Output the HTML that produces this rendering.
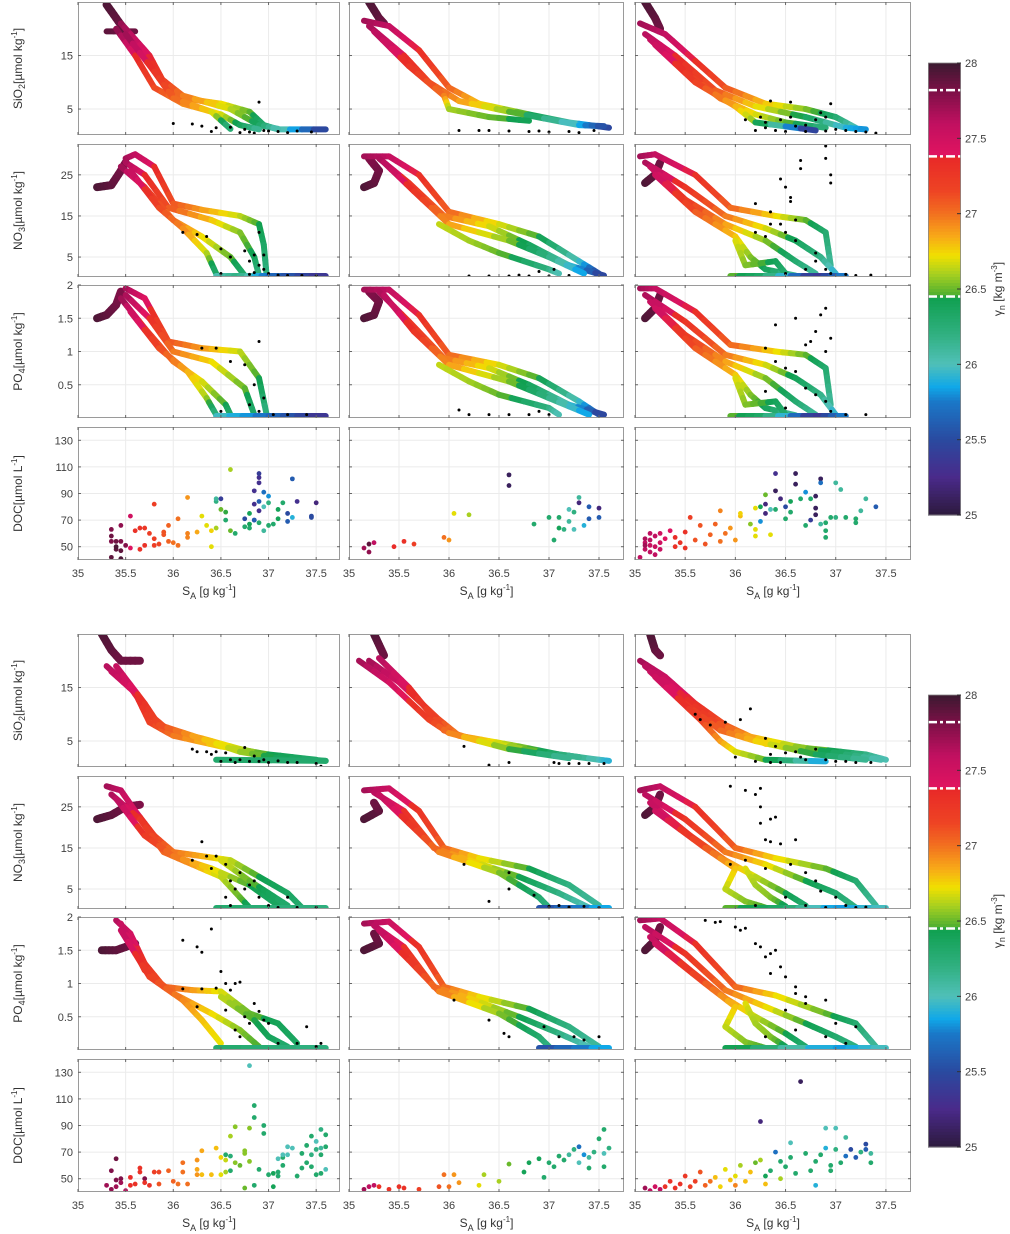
<!DOCTYPE html>
<html><head><meta charset="utf-8"><style>
html,body{margin:0;padding:0;background:#fff;}
svg{display:block;font-family:"Liberation Sans",Arial,sans-serif;}
</style></head><body>
<svg id="fig" width="1010" height="1234" viewBox="0 0 1010 1234" xmlns="http://www.w3.org/2000/svg">
<defs id="defs"></defs>
<text x="276" y="40" font-size="15" font-weight="bold" text-anchor="middle" fill="#000">FALL</text>
<text x="278" y="672" font-size="15" font-weight="bold" text-anchor="middle" fill="#000">SPRING</text>
</svg>
<script>
// ===== DATA (curves: [S_A, value, gamma_n]; dots: [S_A, value]; DOC: [S_A, DOC, gamma_n]) =====
const xTicks=[35,35.5,36,36.5,37,37.5];
const siTicks=[5,15];
const no3Ticks=[5,15,25];
const po4Ticks=[0.5,1,1.5,2];
const docTicks=[50,70,90,110,130];
const cbTicks=[25,25.5,26,26.5,27,27.5,28];
const cbDashes=[27.82,27.38,26.45];

// FALL column 1
const fSi1=[[[35.3,24.5,27.95],[35.4,22,27.9],[35.5,19.5,27.85]],[[35.3,19.5,27.9],[35.6,19.5,27.85]],
[[35.45,21,27.75],[35.6,18,27.55],[35.75,15,27.4],[35.9,10,27.2],[36.1,7,27.0],[36.5,6,26.75],[36.8,4.5,26.5],[36.95,2,26.3],[37.1,1.2,26.1],[37.6,1.2,25.4]],
[[35.5,20,27.7],[35.7,16,27.45],[35.85,11,27.25],[36.1,7.5,27.0],[36.6,5,26.65],[36.9,2,26.35],[37.1,1.3,26.0]],
[[35.4,20,27.8],[35.6,15,27.4],[35.8,9,27.15],[36.1,6,26.95],[36.5,4,26.7],[36.7,2,26.4],[36.9,1.2,26.1]],
[[35.5,19,27.75],[35.8,12,27.3],[36.0,7,27.05],[36.4,4.5,26.75],[36.6,1.3,26.2]]];
const fSi1Dots=[[36.0,2.3],[36.2,2.2],[36.3,1.8],[36.4,0.8],[36.45,1.5],[36.6,1.6],[36.75,1.2],[36.8,0.7],[36.9,6.3],[36.95,1.0],[37.0,0.9],[37.1,0.8],[37.2,0.6],[37.3,0.9],[37.45,0.7],[36.85,0.5],[36.7,0.6]];
const fNo1=[[[35.2,22,27.95],[35.35,22.5,27.9],[35.45,26,27.85],[35.5,28,27.8]],
[[35.5,29,27.7],[35.6,30,27.6],[35.8,27,27.4],[36.0,18,27.1],[36.3,16.5,26.9],[36.7,15,26.65],[36.9,13,26.45],[36.95,8,26.35],[36.98,0.5,26.2]],
[[35.5,28,27.7],[35.7,25,27.4],[35.95,17,27.1],[36.4,14,26.8],[36.7,11,26.55],[36.85,5,26.4],[36.9,0.5,26.2]],
[[35.45,27,27.75],[35.7,22,27.3],[36.0,14,27.0],[36.3,10,26.75],[36.6,5,26.5],[36.75,0.5,26.3]],
[[35.55,26,27.6],[35.85,17,27.15],[36.1,12,26.95],[36.35,6,26.65],[36.45,1,26.3]],
[[36.45,0.4,26.0],[36.7,0.4,26.2],[37.0,0.4,25.7],[37.6,0.4,25.3]]];
const fNo1Dots=[[36.1,11],[36.25,10.5],[36.35,10],[36.5,7],[36.6,5],[36.75,6.5],[36.85,5.5],[36.8,4],[36.9,3],[36.95,2],[36.9,11],[36.95,5.5],[37.0,1],[37.1,0.6],[37.2,0.5],[37.35,0.5],[37.5,0.4],[36.5,1],[36.85,1.2],[36.8,0.8]];
const fPo1=[[[35.2,1.5,27.95],[35.3,1.55,27.9],[35.4,1.7,27.85],[35.45,1.9,27.8]],
[[35.5,1.95,27.7],[35.7,1.8,27.45],[35.95,1.15,27.1],[36.3,1.05,26.9],[36.7,1.0,26.65],[36.9,0.6,26.45],[36.98,0.05,26.2]],
[[35.5,1.85,27.7],[35.75,1.5,27.35],[36.0,1.0,27.0],[36.4,0.85,26.75],[36.75,0.45,26.5],[36.85,0.05,26.3]],
[[35.45,1.8,27.75],[35.7,1.35,27.3],[36.0,0.85,27.0],[36.3,0.55,26.7],[36.55,0.2,26.45],[36.6,0.05,26.3]],
[[35.55,1.6,27.55],[35.85,1.05,27.15],[36.15,0.7,26.85],[36.35,0.3,26.6],[36.45,0.05,26.2]],
[[36.45,0.03,26.0],[37.0,0.03,25.7],[37.6,0.03,25.3]]];
const fPo1Dots=[[36.3,1.05],[36.45,1.05],[36.6,0.85],[36.75,0.8],[36.85,0.5],[36.9,1.15],[36.95,0.3],[36.8,0.2],[36.9,0.1],[37.05,0.05],[37.2,0.05],[37.4,0.05],[36.5,0.1]];
const fDoc1=[[35.35,63,27.8],[35.35,58,27.85],[35.35,54,27.8],[35.4,54,27.85],[35.45,54,27.8],[35.45,66,27.75],[35.4,48,27.9],[35.45,47,27.9],[35.4,50,27.95],[35.35,42,27.9],[35.45,41,27.95],[35.5,51,27.8],[35.55,73,27.5],[35.55,49,27.4],[35.6,62,27.3],[35.65,64,27.3],[35.7,64,27.25],[35.65,48,27.3],[35.7,51,27.3],[35.75,60,27.2],[35.8,82,27.2],[35.8,56,27.2],[35.8,51,27.2],[35.9,61,27.1],[35.9,59,27.1],[35.85,52,27.15],[35.95,66,27.05],[35.95,54,27.05],[36.0,53,27.0],[36.05,71,27.0],[36.05,51,27.0],[36.15,57,26.95],[36.15,60,26.95],[36.15,87,26.9],[36.25,61,26.85],[36.3,73,26.7],[36.35,66,26.7],[36.4,62,26.75],[36.4,50,26.7],[36.45,64,26.6],[36.5,78,26.5],[36.45,84,26.2],[36.45,86,26.1],[36.5,86,25.4],[36.55,70,26.3],[36.55,76,26.45],[36.6,62,26.5],[36.6,108,26.6],[36.65,60,26.3],[36.75,65,26.3],[36.75,71,25.5],[36.8,67,26.4],[36.8,75,26.4],[36.8,64,26.3],[36.85,70,25.4],[36.85,92,25.3],[36.85,82,25.3],[36.9,98,25.3],[36.9,102,25.3],[36.9,105,25.4],[36.95,91,25.7],[36.9,84,25.6],[36.95,80,26.0],[37.0,88,25.8],[36.9,68,26.3],[36.95,62,26.1],[37.0,83,26.2],[37.0,66,26.3],[37.05,67,26.3],[37.1,78,26.4],[37.1,71,26.4],[37.15,83,26.3],[37.2,69,25.6],[37.2,75,25.5],[37.25,72,25.9],[37.25,101,25.6],[37.3,84,25.3],[37.45,73,25.5],[37.45,72,25.5],[37.5,83,25.2],[36.9,77,25.3],[36.85,70,25.6]];

// FALL column 2
const fSi2=[[[35.2,25,27.95],[35.3,22,27.9],[35.35,21,27.85]],
[[35.15,21.5,27.7],[35.4,20.5,27.6],[35.7,16,27.35],[36.0,9,27.05],[36.3,6,26.8],[36.8,4,26.45],[37.2,2.5,26.1],[37.6,1.5,25.4]],
[[35.2,20.5,27.7],[35.55,15,27.4],[35.8,10,27.15],[36.1,6.5,26.9],[36.6,4.5,26.55],[37.3,2,25.9],[37.55,1.8,25.5]],
[[35.25,19.5,27.65],[35.6,13,27.3],[35.95,7.5,27.0],[36.0,5,26.6],[36.4,3.5,26.5],[36.8,2.8,26.4]]];
const fSi2Dots=[[36.1,1],[36.3,1],[36.4,1],[36.6,0.9],[36.8,0.8],[36.9,0.9],[37.0,0.7],[37.2,0.8],[37.3,0.6],[37.45,1.0]];
const fNo2=[[[35.15,22,27.95],[35.25,23,27.9],[35.3,26,27.85],[35.2,29,27.8]],
[[35.15,29.5,27.7],[35.4,29.5,27.6],[35.7,25,27.35],[36.0,16,27.05],[36.5,13,26.7],[36.9,10,26.45],[37.3,4,26.0],[37.5,1,25.5]],
[[35.3,29,27.7],[35.6,23,27.3],[35.95,15,27.0],[36.4,12.5,26.7],[36.8,8,26.4],[37.2,3,26.0],[37.55,0.5,25.4]],
[[35.35,28,27.65],[35.65,21,27.3],[36.0,13,26.9],[36.6,9,26.55],[37.0,5,26.2],[37.35,1,25.8]],
[[35.9,13,26.65],[36.2,9,26.6],[36.5,6,26.5],[37.0,2,26.2],[37.1,1,26.0]]];
const fNo2Dots=[[36.2,0.4],[36.4,0.4],[36.6,0.4],[36.8,0.4],[37.0,0.4],[37.2,0.5],[36.9,1.5],[37.05,2],[36.7,0.6]];
const fPo2=[[[35.15,1.5,27.95],[35.25,1.55,27.9],[35.3,1.75,27.85],[35.2,1.9,27.8]],
[[35.15,1.93,27.7],[35.4,1.93,27.6],[35.7,1.55,27.35],[36.0,0.95,27.05],[36.5,0.8,26.7],[36.9,0.6,26.45],[37.3,0.25,26.0],[37.5,0.05,25.5]],
[[35.3,1.9,27.7],[35.6,1.45,27.3],[35.95,0.9,27.0],[36.4,0.75,26.7],[36.8,0.5,26.4],[37.2,0.2,26.0],[37.55,0.05,25.4]],
[[35.35,1.85,27.65],[35.65,1.3,27.3],[36.0,0.8,26.9],[36.6,0.55,26.55],[37.0,0.3,26.2],[37.4,0.05,25.8]],
[[35.9,0.8,26.65],[36.2,0.55,26.6],[36.5,0.35,26.5],[37.0,0.15,26.2],[37.1,0.05,26.0]]];
const fPo2Dots=[[36.2,0.05],[36.4,0.05],[36.6,0.05],[36.8,0.05],[37.0,0.05],[36.1,0.12],[36.9,0.1]];
const fDoc2=[[35.15,49,27.7],[35.2,46,27.75],[35.2,52,27.9],[35.25,53,27.6],[35.45,50,27.35],[35.55,54,27.3],[35.65,52,27.2],[35.95,57,27.0],[36.0,55,26.9],[36.05,75,26.7],[36.2,74,26.6],[36.6,104,25.1],[36.6,96,25.1],[36.85,67,26.3],[37.0,72,26.3],[37.05,55,26.3],[37.1,72,26.3],[37.15,63,26.2],[37.2,69,26.1],[37.25,63,26.0],[37.3,87,26.1],[37.3,83,25.2],[37.25,76,26.2],[37.35,66,25.9],[37.4,80,25.6],[37.4,71,25.6],[37.5,79,25.2],[37.5,72,25.6],[37.2,78,26.0],[37.1,64,26.4]];

// FALL column 3
const fSi3=[[[35.1,25,27.95],[35.2,22,27.9],[35.25,20,27.85]],
[[35.05,21,27.7],[35.3,19,27.6],[35.6,14,27.35],[35.9,9,27.1],[36.3,6,26.8],[36.7,5,26.55],[37.0,3.5,26.3],[37.2,1.5,26.0]],
[[35.1,19,27.65],[35.4,15,27.4],[35.8,8.5,27.1],[36.2,5.5,26.75],[36.7,3.5,26.4],[37.1,1.5,25.9],[37.3,1.2,25.8]],
[[35.15,18,27.6],[35.5,12,27.3],[35.85,7,27.0],[36.2,4,26.7],[36.5,2.5,26.5],[36.9,1.5,26.2]],
[[35.2,17,27.55],[35.6,10,27.2],[36.0,5.5,26.85],[36.2,2.5,26.55],[36.8,1.0,25.3]]];
const fSi3Dots=[[36.1,3],[36.25,3.5],[36.3,2.5],[36.35,6.5],[36.45,3],[36.55,3.5],[36.6,1.8],[36.55,6.3],[36.7,2],[36.8,3],[36.85,4.3],[36.95,6],[36.9,3.5],[37.0,1.2],[37.1,1],[37.2,0.8],[37.3,0.7],[37.4,0.5],[36.2,1],[36.4,1],[36.5,0.8],[36.7,0.8],[36.9,0.9],[36.3,1.5]];
const fNo3=[[[35.1,23,27.95],[35.2,25,27.9],[35.25,28,27.85]],
[[35.05,29.5,27.7],[35.2,30,27.6],[35.6,25,27.35],[35.95,17,27.05],[36.4,15,26.75],[36.7,14,26.5],[36.9,11,26.3],[36.95,3,26.1]],
[[35.1,28,27.7],[35.5,22,27.3],[35.9,15,27.0],[36.3,12,26.7],[36.6,9,26.4],[36.85,5,26.2],[37.0,1,25.9]],
[[35.15,27,27.6],[35.5,19,27.25],[35.9,13,26.9],[36.3,9,26.55],[36.6,4,26.3],[36.8,1,26.1]],
[[35.2,25,27.55],[35.6,16,27.1],[36.0,10,26.8],[36.15,5,26.55],[36.3,2,26.4],[36.6,0.5,26.1]],
[[36.0,9,26.7],[36.1,3,26.55],[36.4,4,26.4],[36.5,1,26.3]],
[[35.95,0.4,26.5],[36.3,0.4,26.3],[36.8,0.4,25.3],[37.1,0.4,25.8]]];
const fNo3Dots=[[36.2,18],[36.35,16],[36.5,22],[36.55,18.5],[36.55,19.5],[36.45,24],[36.9,32],[36.65,28.5],[36.65,26.5],[36.9,29],[36.95,25],[36.95,23],[36.35,13],[36.45,13],[36.6,14],[36.2,11],[36.3,10],[36.5,11],[36.6,9],[36.8,6],[36.8,4],[36.9,2],[36.95,1],[37.1,0.8],[37.2,0.5],[37.35,0.6],[36.5,1],[36.7,2]];
const fPo3=[[[35.1,1.5,27.95],[35.2,1.65,27.9],[35.25,1.85,27.85]],
[[35.05,1.95,27.7],[35.2,1.95,27.6],[35.6,1.6,27.35],[35.95,1.1,27.05],[36.4,1.0,26.75],[36.7,0.95,26.5],[36.9,0.75,26.3],[36.95,0.2,26.1]],
[[35.1,1.85,27.7],[35.5,1.45,27.3],[35.9,0.95,27.0],[36.3,0.8,26.7],[36.6,0.6,26.4],[36.85,0.35,26.2],[37.0,0.05,25.9]],
[[35.15,1.75,27.6],[35.5,1.25,27.25],[35.9,0.85,26.9],[36.3,0.6,26.55],[36.6,0.25,26.3],[36.8,0.05,26.1]],
[[35.2,1.65,27.55],[35.6,1.05,27.1],[36.0,0.65,26.8],[36.15,0.35,26.55],[36.3,0.15,26.4],[36.6,0.04,26.1]],
[[36.0,0.6,26.7],[36.1,0.2,26.55],[36.4,0.25,26.4],[36.5,0.05,26.3]],
[[35.95,0.03,26.5],[36.3,0.03,26.3],[36.8,0.03,25.3],[37.1,0.03,25.8]]];
const fPo3Dots=[[36.4,1.4],[36.6,1.5],[36.7,1.1],[36.75,1.15],[36.8,1.3],[36.85,1.55],[36.9,1.65],[36.9,1.0],[36.95,1.2],[36.3,1.05],[36.4,0.85],[36.5,0.75],[36.6,0.7],[36.7,0.45],[36.8,0.35],[36.9,0.25],[36.95,0.1],[37.1,0.05],[37.3,0.05],[36.5,0.15],[36.3,0.4]];
const fDoc3=[[35.05,42,27.6],[35.1,48,27.6],[35.1,53,27.6],[35.1,56,27.65],[35.15,46,27.6],[35.15,51,27.55],[35.15,55,27.6],[35.2,50,27.55],[35.2,58,27.6],[35.2,44,27.6],[35.25,48,27.55],[35.25,53,27.5],[35.25,60,27.5],[35.1,51,27.7],[35.15,60,27.6],[35.3,56,27.4],[35.35,62,27.4],[35.4,57,27.35],[35.4,50,27.3],[35.45,53,27.3],[35.5,49,27.3],[35.5,61,27.3],[35.55,72,27.2],[35.6,55,27.1],[35.65,66,27.1],[35.7,52,27.1],[35.75,59,27.05],[35.8,67,27.05],[35.85,54,27.0],[35.85,77,26.95],[35.9,60,27.0],[35.95,64,26.9],[36.0,55,26.9],[36.05,73,26.8],[36.05,75,26.75],[36.15,67,26.55],[36.2,79,26.7],[36.2,63,26.7],[36.2,58,26.7],[36.25,80,26.4],[36.25,69,25.8],[36.3,82,25.2],[36.3,75,25.2],[36.3,89,26.5],[36.35,59,26.7],[36.35,78,26.0],[36.4,105,25.3],[36.4,92,25.1],[36.45,86,25.2],[36.5,80,25.5],[36.4,78,26.3],[36.5,71,26.3],[36.55,84,26.4],[36.55,76,26.3],[36.6,97,25.1],[36.6,105,25.1],[36.65,86,26.3],[36.7,91,25.8],[36.7,66,26.3],[36.75,86,26.3],[36.75,70,25.4],[36.8,88,25.1],[36.8,74,25.1],[36.8,79,25.1],[36.85,101,25.1],[36.85,98,25.7],[36.9,68,26.3],[36.9,57,26.3],[36.9,62,26.3],[36.95,72,26.3],[37.0,72,26.2],[37.0,98,26.1],[37.05,93,26.1],[37.1,72,26.3],[37.2,71,26.3],[37.2,68,26.3],[37.25,77,26.1],[37.3,86,26.1],[37.4,80,25.6],[36.85,67,26.1]];

// SPRING column 1
const sSi1=[[[35.25,25,27.95],[35.35,22,27.9],[35.45,20,27.85],[35.65,20,27.85]],
[[35.3,19,27.65],[35.55,15,27.45],[35.75,10,27.25],[35.95,7,27.05],[36.3,5.5,26.85],[36.7,3.5,26.65],[37.1,2.0,26.4],[37.6,1.3,26.3]],
[[35.35,18,27.6],[35.6,14,27.4],[35.75,8.5,27.2],[36.0,6,27.0],[36.5,4,26.75],[37.0,2.5,26.45],[37.5,1.5,26.3]],
[[35.4,19,27.6],[35.7,12,27.3],[35.85,8,27.15],[36.2,6,26.9],[36.7,3,26.6],[37.2,1.5,26.35]],
[[36.45,1.5,26.3],[37.6,1.3,26.3]]];
const sSi1Dots=[[36.2,3.5],[36.25,3],[36.35,3],[36.4,2.5],[36.45,3],[36.55,2.8],[36.6,1.5],[36.65,1],[36.7,1.5],[36.75,3.8],[36.8,1.2],[36.85,2.2],[36.9,1.2],[37.0,1.0],[37.1,1.3],[37.2,1.0],[37.3,1.0],[37.5,0.8],[37.55,0.3],[36.5,1.2],[36.95,1.5]];
const sNo1=[[[35.2,22,27.95],[35.35,23,27.9],[35.5,25,27.85],[35.65,25.5,27.8]],
[[35.3,30,27.7],[35.45,29,27.6],[35.6,24,27.45],[35.8,18,27.2],[36.0,14,27.0],[36.3,13,26.85],[36.6,12,26.65],[36.9,8,26.45],[37.2,4,26.35],[37.35,0.5,26.3]],
[[35.35,28,27.7],[35.65,22,27.3],[35.9,14,27.05],[36.2,11,26.9],[36.5,8,26.65],[36.7,3,26.5],[36.8,0.5,26.4]],
[[35.4,27,27.65],[35.7,18,27.25],[36.0,13,27.0],[36.4,10,26.75],[36.8,6,26.45],[37.1,1,26.35]],
[[36.5,12,26.7],[36.8,7,26.5],[37.0,4,26.4],[37.2,1,26.3]],
[[36.45,0.4,26.3],[37.6,0.4,26.2]]];
const sNo1Dots=[[36.3,16.5],[36.2,12],[36.35,13],[36.45,13],[36.4,10],[36.55,11],[36.6,7],[36.65,5],[36.7,9],[36.75,5],[36.8,6],[36.85,7],[36.9,3],[37.0,1],[37.1,0.5],[37.2,3],[37.3,0.5],[37.5,0.5],[36.55,3],[36.6,1]];
const sPo1=[[[35.25,1.5,27.95],[35.4,1.5,27.9],[35.6,1.6,27.85]],
[[35.4,1.95,27.65],[35.55,1.75,27.5],[35.7,1.3,27.3],[35.9,0.95,27.1],[36.2,0.9,26.9],[36.5,0.88,26.7],[36.8,0.55,26.5],[37.1,0.4,26.4],[37.3,0.1,26.35]],
[[35.45,1.9,27.6],[35.7,1.2,27.25],[36.0,0.85,27.0],[36.4,0.55,26.75],[36.7,0.3,26.55],[36.9,0.05,26.45]],
[[35.45,1.8,27.6],[35.75,1.1,27.2],[36.1,0.75,26.95],[36.3,0.45,26.8],[36.5,0.1,26.7]],
[[36.5,0.8,26.65],[36.85,0.45,26.45],[37.0,0.2,26.4],[37.2,0.05,26.3]],
[[36.45,0.03,26.3],[37.6,0.03,26.2]]];
const sPo1Dots=[[36.1,1.65],[36.25,1.55],[36.3,1.47],[36.4,1.82],[36.5,1.18],[36.55,1.0],[36.6,0.9],[36.65,1.0],[36.7,1.02],[36.45,0.93],[36.1,0.92],[36.25,0.65],[36.3,0.92],[36.55,0.6],[36.65,0.3],[36.75,0.5],[36.8,0.4],[36.9,0.58],[36.95,0.45],[37.0,0.4],[37.1,0.1],[37.3,0.1],[37.4,0.35],[37.5,0.05],[37.55,0.1],[36.85,0.7],[36.7,0.2]];
const sDoc1=[[35.3,45,27.7],[35.35,42,27.75],[35.35,56,27.8],[35.4,65,27.85],[35.4,49,27.8],[35.45,50,27.8],[35.4,44,27.7],[35.45,47,27.7],[35.5,41,27.6],[35.55,45,27.35],[35.55,51,27.35],[35.6,46,27.3],[35.65,58,27.3],[35.65,55,27.3],[35.7,50,27.8],[35.7,47,27.3],[35.75,45,27.3],[35.8,55,27.2],[35.85,55,27.15],[35.85,46,27.1],[35.95,56,27.05],[36.0,48,27.05],[36.05,46,27.0],[36.1,55,27.0],[36.1,62,27.0],[36.15,46,27.0],[36.25,64,26.9],[36.25,57,26.85],[36.25,53,26.9],[36.3,71,26.85],[36.3,53,26.8],[36.4,53,26.8],[36.45,73,26.8],[36.5,66,26.75],[36.5,53,26.7],[36.55,64,26.65],[36.55,55,26.6],[36.6,56,26.3],[36.55,68,26.3],[36.6,67,26.25],[36.6,82,26.6],[36.65,89,26.55],[36.65,62,26.55],[36.7,60,26.5],[36.75,71,26.55],[36.75,69,26.55],[36.75,43,26.5],[36.8,88,26.55],[36.8,63,26.55],[36.85,105,26.3],[36.85,45,26.3],[36.85,96,26.3],[36.9,57,26.3],[36.8,135,26.0],[36.95,90,26.3],[36.95,84,26.3],[37.0,53,26.3],[37.05,44,26.4],[37.05,54,26.4],[37.1,52,26.3],[37.1,65,26.0],[37.1,55,26.3],[37.15,60,26.3],[37.15,66,26.3],[37.15,68,26.0],[37.2,74,26.0],[37.2,68,26.0],[37.25,73,26.0],[37.3,52,26.3],[37.35,58,26.3],[37.4,62,26.3],[37.35,69,26.3],[37.4,75,26.3],[37.45,59,26.3],[37.5,72,26.2],[37.5,78,26.0],[37.55,73,26.1],[37.55,68,26.3],[37.6,83,26.3],[37.6,74,26.3],[37.6,57,26.0],[37.55,54,26.3],[37.55,87,26.2],[37.45,82,26.3],[37.5,53,26.3],[37.45,68,26.2]];

// SPRING column 2
const sSi2=[[[35.25,25,27.95],[35.3,23,27.9],[35.35,21,27.85]],
[[35.2,20,27.7],[35.5,16,27.5],[35.9,9,27.15],[36.1,6,26.95],[36.4,5,26.75],[36.7,4,26.55],[37.1,2.5,26.3],[37.5,1.5,26.0],[37.6,1.3,25.9]],
[[35.3,20.5,27.65],[35.6,15,27.4],[35.95,7,27.1],[36.3,5,26.8],[36.9,3,26.45],[37.3,2,26.1]],
[[35.1,20,27.7],[35.4,16,27.5],[35.8,9,27.2],[36.0,6.5,27.0],[36.6,3.5,26.5],[37.2,1.8,26.1]]];
const sSi2Dots=[[36.15,4],[36.4,0.5],[36.6,1],[37.05,1],[37.1,0.8],[37.2,0.8],[37.3,0.8],[37.4,0.8],[37.55,0.8]];
const sNo2=[[[35.15,22,27.95],[35.3,24,27.9],[35.25,26,27.85]],
[[35.15,29,27.7],[35.4,29.5,27.55],[35.7,24,27.3],[35.95,15,27.05],[36.3,12.5,26.75],[36.8,10,26.45],[37.2,6,26.2],[37.5,1,26.1]],
[[35.25,28.5,27.65],[35.55,24,27.35],[35.85,15,27.05],[36.2,12,26.8],[36.7,8,26.45],[37.1,4,26.2],[37.4,0.5,26.0]],
[[35.3,28,27.6],[35.6,21,27.3],[35.9,14,27.0],[36.5,9,26.55],[36.9,3,26.3],[37.0,0.5,26.2]],
[[36.9,0.4,25.5],[37.6,0.4,25.9]]];
const sNo2Dots=[[36.15,11],[36.4,2],[36.6,9],[36.6,5],[36.85,3.5],[37.0,0.8],[37.2,0.6],[37.35,0.8],[37.5,0.5],[37.1,1]];
const sPo2=[[[35.15,1.5,27.95],[35.3,1.6,27.9],[35.25,1.75,27.85]],
[[35.15,1.9,27.7],[35.4,1.93,27.55],[35.7,1.55,27.3],[35.95,0.95,27.05],[36.3,0.8,26.75],[36.8,0.62,26.45],[37.2,0.35,26.2],[37.5,0.05,26.1]],
[[35.25,1.87,27.65],[35.55,1.55,27.35],[35.85,0.95,27.05],[36.2,0.78,26.8],[36.7,0.5,26.45],[37.1,0.25,26.2],[37.4,0.05,26.0]],
[[35.3,1.8,27.6],[35.6,1.35,27.3],[35.9,0.88,27.0],[36.5,0.55,26.55],[36.9,0.2,26.3],[37.0,0.05,26.2]],
[[36.9,0.03,25.5],[37.6,0.03,25.9]]];
const sPo2Dots=[[36.05,0.75],[36.4,0.45],[36.6,0.2],[36.55,0.25],[36.95,0.35],[37.1,0.2],[37.25,0.2],[37.35,0.15],[37.5,0.2]];
const sDoc2=[[35.15,42,27.7],[35.2,44,27.6],[35.25,45,27.6],[35.3,44,27.3],[35.4,42,27.3],[35.5,44,27.3],[35.55,43,27.3],[35.7,42,27.2],[35.9,44,27.1],[35.95,53,27.0],[36.0,44,27.0],[36.05,53,26.9],[36.1,47,26.9],[36.3,45,26.7],[36.35,53,26.6],[36.5,48,26.6],[36.6,61,26.5],[36.75,55,26.4],[36.8,62,26.4],[36.9,65,26.4],[36.95,51,26.3],[37.0,62,26.3],[37.05,59,26.3],[37.1,67,26.3],[37.15,64,26.3],[37.2,68,26.1],[37.25,72,26.2],[37.3,62,26.0],[37.3,74,25.7],[37.35,68,25.8],[37.4,58,26.3],[37.4,66,26.1],[37.45,70,26.2],[37.5,80,26.3],[37.55,87,26.3],[37.55,69,26.0],[37.6,73,26.2],[37.55,59,26.3]];

// SPRING column 3
const sSi3=[[[35.15,25,27.95],[35.2,22,27.9],[35.25,21,27.85]],
[[35.05,20,27.7],[35.3,17,27.55],[35.6,12,27.35],[35.9,8,27.1],[36.3,4.5,26.8],[36.8,3.5,26.55],[37.3,2.5,26.2],[37.5,1.5,26.0]],
[[35.1,19,27.65],[35.45,14,27.4],[35.75,9,27.2],[36.1,6,26.9],[36.6,4,26.6],[37.1,2.5,26.3],[37.45,1.5,26.0]],
[[35.15,18,27.6],[35.5,12,27.3],[35.85,7,27.05],[36.2,5,26.8],[36.8,2.5,26.4],[37.3,1.5,26.1]],
[[35.2,17,27.55],[35.65,9,27.2],[35.85,5,26.9],[36.0,3,26.7],[36.3,1.5,26.5],[36.9,1.2,25.8]]];
const sSi3Dots=[[35.6,10],[35.65,9],[35.75,8],[35.9,8.5],[36.05,9],[36.15,11],[36.3,5.5],[36.4,4],[36.35,2.5],[36.5,2.8],[36.6,3],[36.65,2],[36.7,1.5],[36.8,3.5],[36.9,1.5],[37.0,1.2],[37.1,1.2],[36.45,1],[36.2,1.2],[36.0,2],[36.35,1],[37.2,1],[37.35,1]];
const sNo3=[[[35.1,23,27.95],[35.2,25,27.9],[35.25,28,27.85]],
[[35.05,29,27.7],[35.25,30,27.6],[35.6,25,27.35],[36.0,15,27.05],[36.4,12.5,26.75],[36.9,10,26.5],[37.2,7,26.3],[37.4,1,26.1]],
[[35.1,28,27.65],[35.5,22,27.3],[35.9,14,27.0],[36.3,11,26.75],[36.7,7,26.45],[37.0,4,26.3],[37.2,0.5,26.2]],
[[35.15,26,27.6],[35.55,18,27.25],[35.9,12,26.95],[36.2,8,26.65],[36.5,4,26.45],[36.7,1,26.3]],
[[35.2,24,27.55],[35.7,15,27.1],[36.0,10,26.8],[35.9,5,26.65],[36.1,2,26.55],[36.3,0.5,26.45]],
[[36.1,10,26.7],[36.2,6,26.6],[36.35,3,26.55],[36.5,0.8,26.4]],
[[35.9,0.4,26.5],[36.5,0.4,26.3],[37.0,0.4,25.8],[37.5,0.4,26.0]]];
const sNo3Dots=[[35.95,30],[36.1,29],[36.25,29.5],[36.2,28],[36.25,25],[36.35,22],[36.4,22.5],[36.25,21],[36.3,17],[36.35,16.5],[36.45,16],[36.6,17],[35.95,11],[36.1,12],[36.3,10],[36.55,11],[36.7,9],[36.8,7],[36.85,4.5],[37.0,3],[37.1,1],[36.5,3],[36.7,1],[36.2,1],[36.9,0.5],[37.2,0.5],[37.3,0.6]];
const sPo3=[[[35.1,1.5,27.95],[35.2,1.65,27.9],[35.25,1.85,27.85]],
[[35.05,1.95,27.7],[35.25,1.98,27.6],[35.6,1.6,27.35],[36.0,0.95,27.05],[36.4,0.82,26.75],[36.9,0.55,26.5],[37.2,0.4,26.3],[37.4,0.05,26.1]],
[[35.1,1.85,27.65],[35.5,1.45,27.3],[35.9,0.9,27.0],[36.3,0.65,26.75],[36.7,0.4,26.45],[37.0,0.2,26.3],[37.2,0.05,26.2]],
[[35.15,1.7,27.6],[35.55,1.2,27.25],[35.9,0.78,26.95],[36.2,0.5,26.65],[36.5,0.25,26.45],[36.7,0.05,26.3]],
[[35.2,1.6,27.55],[35.7,1.0,27.1],[36.0,0.65,26.8],[35.9,0.35,26.65],[36.1,0.12,26.55],[36.3,0.03,26.45]],
[[36.1,0.7,26.7],[36.2,0.4,26.6],[36.35,0.2,26.55],[36.5,0.05,26.4]],
[[35.9,0.03,26.5],[37.0,0.03,25.8],[37.5,0.03,26.0]]];
const sPo3Dots=[[35.7,1.95],[35.8,1.92],[35.85,1.93],[36.0,1.85],[36.1,1.83],[36.05,1.8],[36.2,1.6],[36.25,1.55],[36.3,1.4],[36.35,1.45],[36.4,1.5],[36.45,1.25],[36.35,1.15],[36.5,1.1],[36.6,0.95],[36.6,0.85],[36.7,0.8],[36.5,0.6],[36.7,0.7],[36.9,0.75],[37.0,0.4],[37.2,0.35],[36.6,0.3],[36.3,0.2],[36.9,0.2],[37.1,0.1]];
const sDoc3=[[35.1,43,27.7],[35.15,41,27.6],[35.2,44,27.5],[35.25,42,27.6],[35.3,44,27.3],[35.35,48,27.3],[35.4,43,27.3],[35.45,46,27.3],[35.5,52,27.25],[35.55,44,27.2],[35.6,48,27.2],[35.65,55,27.1],[35.7,45,27.05],[35.75,48,27.0],[35.8,51,26.8],[35.85,44,26.75],[35.9,57,26.7],[35.95,49,26.8],[36.0,45,26.95],[36.0,52,26.7],[36.05,60,26.6],[36.1,48,26.8],[36.15,55,26.8],[36.2,62,26.5],[36.25,93,25.2],[36.25,64,26.6],[36.3,52,26.4],[36.3,46,26.8],[36.35,56,26.3],[36.4,70,25.7],[36.45,63,26.3],[36.45,50,26.6],[36.5,59,26.3],[36.55,66,26.3],[36.6,54,26.3],[36.65,123,25.1],[36.7,69,26.3],[36.75,56,26.3],[36.8,63,26.3],[36.85,68,26.3],[36.9,73,25.9],[36.9,88,26.0],[36.95,56,26.3],[37.0,72,26.2],[37.0,88,26.0],[37.05,62,26.3],[37.1,81,26.1],[37.1,67,25.7],[37.15,72,25.5],[37.2,66,25.6],[37.25,70,26.2],[37.3,72,25.6],[37.3,76,25.5],[37.35,62,26.3],[37.35,69,26.1],[36.8,45,25.9],[36.55,77,26.0],[36.95,60,26.3]];

// ===== RENDERING =====
const NS="http://www.w3.org/2000/svg";
const svg=document.getElementById('fig');
const defs=document.getElementById('defs');
const cmapStops=[[25,'#2d1a3e'],[25.25,'#4a2a8a'],[25.5,'#2a4aa0'],[25.75,'#1a78c8'],[25.85,'#10a8e8'],[26.0,'#50c0b8'],[26.2,'#30b080'],[26.44,'#10a050'],[26.46,'#50b030'],[26.6,'#a8d020'],[26.72,'#f0e000'],[26.85,'#f8a818'],[27.0,'#f27020'],[27.15,'#ee4424'],[27.37,'#e82a28'],[27.39,'#e01460'],[27.6,'#c01060'],[27.8,'#801048'],[28,'#3a1a30']];
function hex(c){return [parseInt(c.substr(1,2),16),parseInt(c.substr(3,2),16),parseInt(c.substr(5,2),16)];}
function cmap(g){
  if(g<=cmapStops[0][0])return cmapStops[0][1];
  for(let i=1;i<cmapStops.length;i++){
    if(g<=cmapStops[i][0]){
      const a=cmapStops[i-1],b=cmapStops[i],t=(g-a[0])/(b[0]-a[0]);
      const ca=hex(a[1]),cb=hex(b[1]);
      return 'rgb('+ca.map((v,k)=>Math.round(v+(cb[k]-v)*t)).join(',')+')';
    }
  }
  return cmapStops[cmapStops.length-1][1];
}
function el(tag,attrs,parent){const e=document.createElementNS(NS,tag);for(const k in attrs)e.setAttribute(k,attrs[k]);(parent||svg).appendChild(e);return e;}

const cols=[[78,340],[349,624],[635,911]];
const rowTops=[2,144,285,427];
const rowH=133;
const blocks=[0,632];
const xDom=[35,37.75];
const rowsDef=[
  {dom:[0.15,25],ticks:siTicks,key:'sio2'},
  {dom:[0.15,32.5],ticks:no3Ticks,key:'no3'},
  {dom:[0,2],ticks:po4Ticks,key:'po4'},
  {dom:[40,140],ticks:docTicks,key:'doc'}];
const panelData=[
  [[fSi1,fSi1Dots],[fSi2,fSi2Dots],[fSi3,fSi3Dots]],
  [[fNo1,fNo1Dots],[fNo2,fNo2Dots],[fNo3,fNo3Dots]],
  [[fPo1,fPo1Dots],[fPo2,fPo2Dots],[fPo3,fPo3Dots]],
  [fDoc1,fDoc2,fDoc3],
  [[sSi1,sSi1Dots],[sSi2,sSi2Dots],[sSi3,sSi3Dots]],
  [[sNo1,sNo1Dots],[sNo2,sNo2Dots],[sNo3,sNo3Dots]],
  [[sPo1,sPo1Dots],[sPo2,sPo2Dots],[sPo3,sPo3Dots]],
  [sDoc1,sDoc2,sDoc3]];
const seasonNames=['fall','spring'];
let clipId=0;

function yLabel(r,cy){
  const t=el('text',{x:0,y:0,'font-size':12,fill:'#333','text-anchor':'middle',transform:'translate(22,'+cy+') rotate(-90)'});
  const names=['SiO','NO','PO','DOC'];
  const subs=['2','3','4',''];
  const unit=r===3?'µmol L':'µmol kg';
  t.appendChild(document.createTextNode(names[r]));
  if(subs[r]){const s=el('tspan',{'font-size':9,dy:3},t);s.textContent=subs[r];const s2=el('tspan',{dy:-3},t);s2.textContent='['+unit;}
  else{const s2=el('tspan',{},t);s2.textContent='['+unit;}
  const sp=el('tspan',{'font-size':8,dy:-5},t);sp.textContent='-1';
  const s3=el('tspan',{dy:5},t);s3.textContent=']';
  
  
}

blocks.forEach((off,b)=>{
  for(let r=0;r<4;r++){
    const rd=rowsDef[r];
    const top=rowTops[r]+off, bot=top+rowH;
    for(let c=0;c<3;c++){
      const [x0,x1]=cols[c];
      const sx=s=>x0+(s-xDom[0])/(xDom[1]-xDom[0])*(x1-x0);
      const sy=v=>bot-(v-rd.dom[0])/(rd.dom[1]-rd.dom[0])*rowH;
      const g=el('g',{});
      
      
      el('rect',{x:x0,y:top,width:x1-x0,height:rowH,fill:'#fff'},g);
      xTicks.forEach(t=>{const X=sx(t);if(X>x0+1&&X<x1-1){const l=el('line',{x1:X,x2:X,y1:top,y2:bot,stroke:'#ebebeb','stroke-width':1},g);}});
      rd.ticks.forEach(t=>{const Y=sy(t);if(Y>top+1&&Y<bot-1){const l=el('line',{x1:x0,x2:x1,y1:Y,y2:Y,stroke:'#ebebeb','stroke-width':1},g);}});
      const cid='clip'+(clipId++);
      const cp=el('clipPath',{id:cid},defs);el('rect',{x:x0,y:top,width:x1-x0,height:rowH},cp);
      const dg=el('g',{'clip-path':'url(#'+cid+')'},g);
      const pd=panelData[b*4+r][c];
      if(r<3){
        const curves=pd[0],dots=pd[1];
        curves.forEach((cv,ci)=>{
          const w=ci===0?8:6;
          for(let i=0;i<cv.length-1;i++){
            const a=cv[i],bb=cv[i+1];
            const n=4;
            for(let k=0;k<n;k++){
              const t0=k/n,t1=(k+1)/n;
              const seg=el('line',{x1:sx(a[0]+(bb[0]-a[0])*t0),y1:sy(a[1]+(bb[1]-a[1])*t0),x2:sx(a[0]+(bb[0]-a[0])*t1),y2:sy(a[1]+(bb[1]-a[1])*t1),stroke:cmap(a[2]+(bb[2]-a[2])*(t0+t1)/2),'stroke-width':w,'stroke-linecap':'round'},dg);
              
              
            }
          }
        });
        dots.forEach(d=>{
          const p=el('circle',{cx:sx(d[0]),cy:sy(d[1]),r:1.5,fill:'#000'},dg);
          
          
        });
      } else {
        pd.forEach(d=>{
          const p=el('circle',{cx:sx(d[0]),cy:sy(d[1]),r:2.4,fill:cmap(d[2])},dg);
          
          
        });
      }
      const fr=el('rect',{x:x0+0.5,y:top+0.5,width:x1-x0-1,height:rowH-1,fill:'none',stroke:'#9a9a9a','stroke-width':1},g);
      
      
      xTicks.forEach(t=>{const X=sx(t);el('line',{x1:X,x2:X,y1:bot,y2:bot-3,stroke:'#666'},g);el('line',{x1:X,x2:X,y1:top,y2:top+3,stroke:'#666'},g);});
      rd.ticks.forEach(t=>{const Y=sy(t);el('line',{x1:x0,x2:x0+3,y1:Y,y2:Y,stroke:'#666'},g);el('line',{x1:x1-3,x2:x1,y1:Y,y2:Y,stroke:'#666'},g);});
      if(c===0){
        rd.ticks.forEach(t=>{
          const tx=el('text',{x:x0-5,y:sy(t)+4,'font-size':11,fill:'#404040','text-anchor':'end'});
          tx.textContent=String(t);
          
          
        });
      }
      if(r===3){
        xTicks.forEach(t=>{
          const tx=el('text',{x:sx(t),y:bot+17,'font-size':11,fill:'#404040','text-anchor':'middle'});
          tx.textContent=String(t);
          
          
        });
        const xl=el('text',{x:(x0+x1)/2,y:bot+35,'font-size':12,fill:'#333','text-anchor':'middle'});
        xl.appendChild(document.createTextNode('S'));
        const s1=el('tspan',{'font-size':9,dy:4},xl);s1.textContent='A';
        const s2=el('tspan',{dy:-4},xl);s2.textContent=' [g kg';
        const s3=el('tspan',{'font-size':8,dy:-5},xl);s3.textContent='-1';
        const s4=el('tspan',{dy:5},xl);s4.textContent=']';
        
        
      }
    }
    yLabel(r,top+rowH/2);
  }
  const cbX=928,cbW=33,cbTop=63+off,cbBot=515+off;
  const cg=el('g',{});
  
  
  const N=150;
  for(let i=0;i<N;i++){
    const g0=28-3*i/N;
    el('rect',{x:cbX,y:cbTop+(cbBot-cbTop)*i/N,width:cbW,height:(cbBot-cbTop)/N+0.6,fill:cmap(g0-1.5/N)},cg);
  }
  const cy=g=>cbTop+(28-g)/3*(cbBot-cbTop);
  cbDashes.forEach(g=>{
    const l=el('line',{x1:cbX,x2:cbX+cbW,y1:cy(g),y2:cy(g),stroke:'#fff','stroke-width':2.5,'stroke-dasharray':'9,3,3,3'},cg);
    
    
  });
  el('rect',{x:cbX+0.5,y:cbTop,width:cbW-1,height:cbBot-cbTop,fill:'none',stroke:'#888','stroke-width':0.8},cg);
  cbTicks.forEach(t=>{
    el('line',{x1:cbX+cbW-4,x2:cbX+cbW,y1:cy(t),y2:cy(t),stroke:'#333'},cg);
    const tx=el('text',{x:cbX+cbW+4,y:cy(t)+4,'font-size':11,fill:'#404040'},cg);
    tx.textContent=String(t);
    
    
  });
  const cl=el('text',{x:0,y:0,'font-size':12,fill:'#333','text-anchor':'middle',transform:'translate(1002,'+((cbTop+cbBot)/2)+') rotate(-90)'},cg);
  cl.appendChild(document.createTextNode('γ'));
  const c1=el('tspan',{'font-size':9,dy:3},cl);c1.textContent='n';
  const c2=el('tspan',{dy:-3},cl);c2.textContent=' [kg m';
  const c3=el('tspan',{'font-size':8,dy:-5},cl);c3.textContent='-3';
  const c4=el('tspan',{dy:5},cl);c4.textContent=']';
  
  
});
</script>
</body></html>
